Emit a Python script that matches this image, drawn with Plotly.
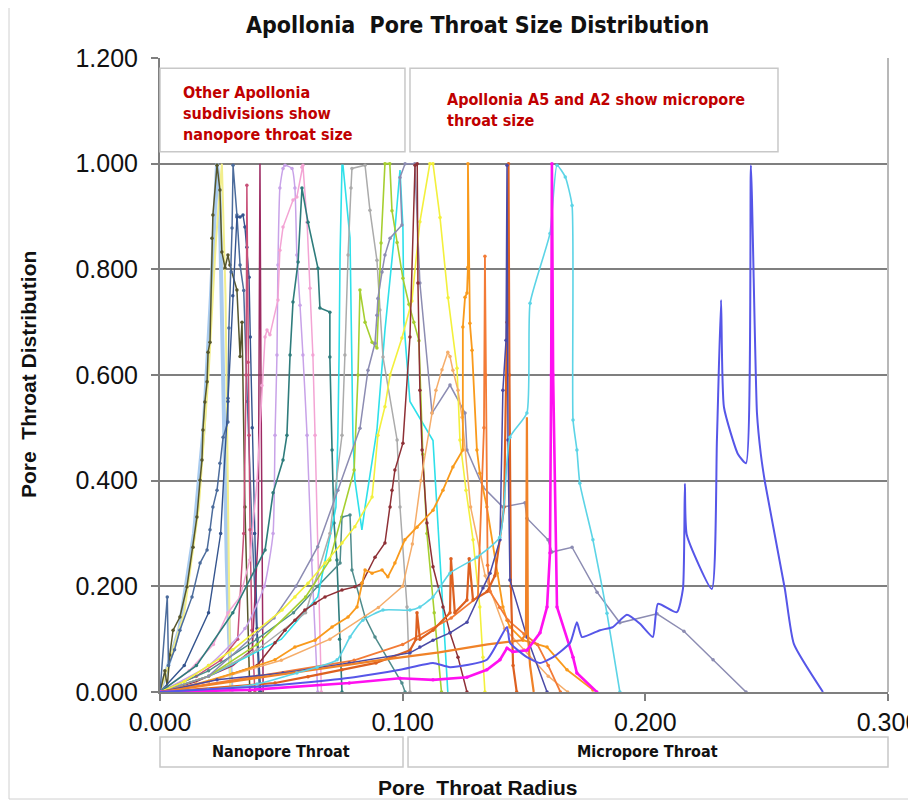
import plotly.graph_objects as go

# ---------------- data ----------------
olive_x = [0.000, 0.002, 0.003, 0.004, 0.0054, 0.0082, 0.0111, 0.0136, 0.0152, 0.0165, 0.0173, 0.0177, 0.0185,
           0.0194, 0.0198, 0.0206, 0.0214, 0.0218, 0.0235, 0.0247, 0.0255, 0.0268, 0.0280, 0.0288, 0.0317,
           0.0330, 0.0338, 0.0350, 0.0370]
olive_y = [0.000, 0.040, 0.010, 0.070, 0.117, 0.142, 0.199, 0.274, 0.331, 0.401, 0.439, 0.496, 0.549,
           0.587, 0.643, 0.662, 0.859, 0.903, 0.997, 0.950, 0.833, 0.803, 0.827, 0.808, 0.761,
           0.635, 0.700, 0.350, 0.000]

lightblue_x = [0.000, 0.008, 0.014, 0.018, 0.021, 0.0235, 0.0245, 0.0255, 0.0265, 0.0275, 0.0285, 0.0295]
lightblue_y = [0.000, 0.120, 0.300, 0.500, 0.750, 1.000, 0.950, 0.700, 0.450, 0.250, 0.100, 0.000]

paleyellow_x = [0.000, 0.010, 0.016, 0.020, 0.023, 0.0255, 0.0270, 0.0280, 0.0285, 0.0290]
paleyellow_y = [0.000, 0.150, 0.350, 0.600, 0.850, 1.000, 0.750, 0.400, 0.150, 0.000]

slate_x = [0.000, 0.003, 0.0035, 0.006, 0.0082, 0.0132, 0.0165, 0.0194, 0.0206, 0.0218, 0.0235, 0.0247, 0.0260,
           0.0280, 0.0280, 0.0284, 0.0293, 0.0297, 0.0301, 0.0317, 0.0330, 0.0345, 0.0360, 0.0380, 0.0400, 0.0410]
slate_y = [0.000, 0.180, 0.050, 0.080, 0.117, 0.180, 0.244, 0.269, 0.307, 0.350, 0.382, 0.433, 0.482,
           0.511, 0.556, 0.689, 0.795, 0.878, 0.997, 0.903, 0.808, 0.760, 0.550, 0.300, 0.100, 0.000]

navy2_x = [0.000, 0.010, 0.020, 0.025, 0.028, 0.030, 0.0317, 0.0330, 0.0342, 0.0350, 0.0358, 0.0367, 0.0372,
           0.0380, 0.0390, 0.0400, 0.0415]
navy2_y = [0.000, 0.050, 0.150, 0.300, 0.550, 0.750, 0.899, 0.899, 0.903, 0.880, 0.842, 0.785, 0.672,
           0.500, 0.300, 0.120, 0.000]

rose_x = [0.000, 0.015, 0.025, 0.032, 0.0345, 0.0355, 0.0358, 0.0363, 0.0367, 0.0371, 0.0379, 0.0391]
rose_y = [0.000, 0.030, 0.060, 0.100, 0.300, 0.600, 0.959, 0.624, 0.486, 0.307, 0.117, 0.000]

maroon_x = [0.000, 0.015, 0.030, 0.038, 0.0405, 0.0412, 0.0416, 0.0420, 0.0425]
maroon_y = [0.000, 0.020, 0.050, 0.080, 0.300, 1.000, 0.600, 0.200, 0.000]

lilac_x = [0.000, 0.020, 0.035, 0.043, 0.0466, 0.0474, 0.0482, 0.0486, 0.0494, 0.0507, 0.0515, 0.0544,
           0.0556, 0.0564, 0.0577, 0.0589, 0.0606, 0.0625, 0.0650]
lilac_y = [0.000, 0.050, 0.120, 0.200, 0.300, 0.486, 0.638, 0.808, 0.954, 0.991, 0.997, 0.991,
           0.954, 0.827, 0.732, 0.638, 0.486, 0.250, 0.000]

pink_x = [0.000, 0.012, 0.022, 0.028, 0.033, 0.037, 0.040, 0.042, 0.0433, 0.0441, 0.0453, 0.0486, 0.0494,
          0.0507, 0.0548, 0.0564, 0.0585, 0.0589, 0.0606, 0.0618, 0.0630, 0.0639, 0.0655, 0.0665]
pink_y = [0.000, 0.040, 0.090, 0.150, 0.180, 0.250, 0.400, 0.580, 0.672, 0.685, 0.676, 0.742, 0.836,
          0.880, 0.931, 0.937, 0.993, 0.997, 0.889, 0.764, 0.638, 0.486, 0.200, 0.000]

teal_x = [0.000, 0.015, 0.030, 0.0433, 0.0466, 0.0507, 0.0523, 0.0536, 0.0548, 0.0569, 0.0585, 0.0610,
          0.0651, 0.0659, 0.0700, 0.0700, 0.0709, 0.0717, 0.0729, 0.0740, 0.0750]
teal_y = [0.000, 0.050, 0.150, 0.269, 0.377, 0.439, 0.486, 0.638, 0.738, 0.814, 0.954, 0.889,
          0.802, 0.727, 0.719, 0.634, 0.458, 0.320, 0.250, 0.100, 0.000]

teal2_x = [0.000, 0.020, 0.040, 0.055, 0.065, 0.0742, 0.0750, 0.0783, 0.0791, 0.0845, 0.0886, 0.0997, 0.1010]
teal2_y = [0.000, 0.040, 0.100, 0.150, 0.200, 0.244, 0.331, 0.335, 0.231, 0.142, 0.104, 0.017, 0.000]

cyan_x = [0.000, 0.020, 0.050, 0.065, 0.0725, 0.0733, 0.0738, 0.0742, 0.0750, 0.0754, 0.0783, 0.0791,
          0.0795, 0.0803, 0.0832, 0.0845, 0.0874, 0.0894, 0.0927, 0.0968, 0.0989, 0.1001, 0.1005, 0.1030,
          0.1125, 0.1166, 0.1186]
cyan_y = [0.000, 0.030, 0.100, 0.180, 0.350, 0.486, 0.638, 0.827, 0.997, 0.997, 0.859, 0.638,
          0.486, 0.401, 0.307, 0.350, 0.433, 0.496, 0.685, 0.874, 0.988, 0.880, 0.700, 0.550,
          0.476, 0.160, 0.000]

gray_x = [0.000, 0.020, 0.040, 0.060, 0.070, 0.0750, 0.0762, 0.0775, 0.0787, 0.0791, 0.0845, 0.0865,
          0.0894, 0.0906, 0.0919, 0.0977, 0.0989, 0.1018, 0.1030]
gray_y = [0.000, 0.030, 0.080, 0.150, 0.300, 0.486, 0.638, 0.827, 0.954, 0.991, 0.997, 0.912,
          0.817, 0.723, 0.634, 0.477, 0.350, 0.161, 0.000]

lime_x = [0.000, 0.020, 0.040, 0.060, 0.070, 0.0800, 0.0816, 0.0824, 0.0845, 0.0874, 0.0894, 0.0911,
          0.0927, 0.0947, 0.0956, 0.0977, 0.1001, 0.1026, 0.1046, 0.1067, 0.1083, 0.1100, 0.1130, 0.1160]
lime_y = [0.000, 0.030, 0.090, 0.180, 0.250, 0.420, 0.600, 0.761, 0.700, 0.662, 0.651, 0.850,
          1.000, 1.000, 0.911, 0.851, 0.783, 0.734, 0.700, 0.665, 0.450, 0.300, 0.150, 0.000]

graypurple_x = [0.000, 0.020, 0.047, 0.056, 0.065, 0.0733, 0.0824, 0.0857, 0.0886, 0.0894, 0.0898, 0.0915,
                0.0927, 0.0948, 0.0997, 0.0989, 0.1010, 0.1050, 0.1071, 0.1121, 0.1195, 0.1257, 0.1265,
                0.1331, 0.1413, 0.1504, 0.1512, 0.1599, 0.1615, 0.1698, 0.1801, 0.1895, 0.2048, 0.2159,
                0.2279, 0.2415]
graypurple_y = [0.000, 0.030, 0.140, 0.200, 0.275, 0.382, 0.499, 0.609, 0.660, 0.713, 0.745, 0.795,
                0.827, 0.859, 0.884, 0.974, 1.000, 1.000, 0.774, 0.528, 0.581, 0.528, 0.458,
                0.388, 0.350, 0.358, 0.329, 0.288, 0.265, 0.274, 0.189, 0.131, 0.148, 0.115,
                0.061, 0.000]

yellow_x = [0.000, 0.010, 0.020, 0.030, 0.0503, 0.0556, 0.0610, 0.0680, 0.0750, 0.0803, 0.0874, 0.0898,
            0.0927, 0.0948, 0.0997, 0.1038, 0.1071, 0.1112, 0.1125, 0.1154, 0.1187, 0.1224, 0.1236,
            0.1261, 0.1290, 0.1318, 0.1331, 0.1339]
yellow_y = [0.000, 0.020, 0.050, 0.080, 0.155, 0.180, 0.206, 0.244, 0.282, 0.313, 0.369, 0.486,
            0.540, 0.600, 0.670, 0.740, 0.890, 1.000, 1.000, 0.898, 0.746, 0.613, 0.477,
            0.382, 0.288, 0.161, 0.066, 0.000]

darkred_x = [0.000, 0.020, 0.040, 0.0474, 0.0515, 0.0556, 0.0597, 0.0639, 0.0680, 0.0750, 0.0803, 0.0832,
             0.0886, 0.0927, 0.0948, 0.0956, 0.0968, 0.1001, 0.1030, 0.1051, 0.1060, 0.1063, 0.1071,
             0.1080, 0.1100, 0.1125, 0.1166, 0.1195, 0.1228, 0.1265]
darkred_y = [0.000, 0.020, 0.050, 0.093, 0.117, 0.136, 0.155, 0.168, 0.180, 0.193, 0.199, 0.206,
             0.255, 0.282, 0.350, 0.382, 0.420, 0.471, 0.672, 0.997, 1.000, 0.774, 0.571,
             0.458, 0.320, 0.237, 0.161, 0.112, 0.066, 0.000]

sandy_x = [0.000, 0.020, 0.050, 0.070, 0.090, 0.100, 0.104, 0.1075, 0.1121, 0.1137, 0.1162, 0.1186,
           0.1195, 0.1207, 0.1228, 0.1245, 0.1280, 0.1340, 0.1420, 0.1500, 0.1600, 0.1680]
sandy_y = [0.000, 0.020, 0.060, 0.100, 0.160, 0.200, 0.280, 0.400, 0.528, 0.571, 0.610, 0.643,
           0.635, 0.609, 0.571, 0.520, 0.350, 0.220, 0.120, 0.080, 0.030, 0.000]

gold_x = [0.000, 0.015, 0.030, 0.0474, 0.0556, 0.0639, 0.0709, 0.0775, 0.0812, 0.0832, 0.0845, 0.0874,
          0.0915, 0.0939, 0.0968, 0.1009, 0.1059, 0.1125, 0.1166, 0.1207, 0.1248, 0.1248, 0.1257,
          0.1265, 0.1269, 0.1269, 0.1277, 0.1286, 0.1306, 0.1318, 0.1347, 0.1389, 0.1413, 0.1430,
          0.1442, 0.1496, 0.1595, 0.1677, 0.1784]
gold_y = [0.000, 0.015, 0.035, 0.061, 0.085, 0.098, 0.123, 0.142, 0.161, 0.206, 0.231, 0.225,
          0.231, 0.218, 0.244, 0.288, 0.312, 0.344, 0.382, 0.426, 0.458, 0.691, 0.747,
          0.755, 0.804, 1.000, 0.698, 0.647, 0.458, 0.414, 0.350, 0.225, 0.161, 0.136,
          0.123, 0.098, 0.085, 0.042, 0.004]

coral_x = [0.000, 0.040, 0.080, 0.100, 0.120, 0.1310, 0.1335, 0.1339, 0.1343, 0.1350, 0.1360, 0.1400,
           0.1434, 0.1500, 0.1555, 0.1600, 0.1650]
coral_y = [0.000, 0.030, 0.060, 0.090, 0.140, 0.180, 0.500, 0.825, 0.600, 0.240, 0.190, 0.160,
           0.136, 0.110, 0.090, 0.050, 0.000]

darkorange_x = [0.000, 0.0474, 0.0610, 0.0750, 0.0890, 0.1030, 0.1055, 0.1059, 0.1071, 0.1125, 0.1195,
                0.1199, 0.1215, 0.1265, 0.1274, 0.1290, 0.1348, 0.1380, 0.1418, 0.1430, 0.1436, 0.1440,
                0.1446, 0.1455, 0.1470]
darkorange_y = [0.000, 0.017, 0.029, 0.042, 0.055, 0.079, 0.100, 0.150, 0.100, 0.117, 0.150,
                0.252, 0.150, 0.174, 0.252, 0.174, 0.190, 0.220, 0.350, 0.700, 1.000, 0.600,
                0.200, 0.050, 0.000]

navy_x = [0.000, 0.0235, 0.0507, 0.0780, 0.1030, 0.1071, 0.1125, 0.1195, 0.1265, 0.1331, 0.1360, 0.1401,
          0.1413, 0.1426, 0.1430, 0.1434, 0.1442, 0.1512, 0.1595]
navy_y = [0.000, 0.023, 0.036, 0.055, 0.074, 0.085, 0.098, 0.112, 0.132, 0.197, 0.225, 0.288,
          0.571, 0.666, 0.997, 0.477, 0.212, 0.104, 0.000]

orange2_x = [0.000, 0.030, 0.060, 0.090, 0.115, 0.135, 0.1490, 0.1508, 0.1512, 0.1516, 0.1525, 0.1540]
orange2_y = [0.000, 0.020, 0.040, 0.060, 0.075, 0.090, 0.098, 0.110, 0.520, 0.110, 0.050, 0.000]

cyan2_x = [0.000, 0.020, 0.040, 0.0564, 0.0647, 0.0730, 0.0783, 0.0836, 0.0919, 0.1030, 0.1071, 0.1125,
           0.1195, 0.1306, 0.1400, 0.1442, 0.1512, 0.1525, 0.1607, 0.1636, 0.1670, 0.1698, 0.1702,
           0.1718, 0.1730, 0.1784, 0.1842, 0.1895]
cyan2_y = [0.000, 0.005, 0.015, 0.036, 0.047, 0.061, 0.104, 0.136, 0.155, 0.155, 0.161, 0.180,
           0.225, 0.255, 0.293, 0.482, 0.528, 0.736, 0.868, 0.997, 0.975, 0.921, 0.515,
           0.458, 0.395, 0.288, 0.149, 0.000]

magenta_x = [0.000, 0.0370, 0.0780, 0.0989, 0.1125, 0.1265, 0.1347, 0.1401, 0.1430, 0.1454, 0.1512,
             0.1566, 0.1595, 0.1607, 0.1612, 0.1615, 0.1620, 0.1636, 0.1702, 0.1718, 0.1800]
magenta_y = [0.000, 0.004, 0.017, 0.026, 0.023, 0.028, 0.042, 0.061, 0.083, 0.076, 0.079,
             0.112, 0.161, 0.263, 0.600, 1.000, 0.600, 0.161, 0.066, 0.036, 0.000]

blue_x = [0.000, 0.020, 0.040, 0.060, 0.080, 0.0989, 0.1125, 0.1195, 0.1347, 0.1430, 0.1442, 0.1512,
          0.1566, 0.1620, 0.1690, 0.1718, 0.1739, 0.1813, 0.1866, 0.1924, 0.1978, 0.2031, 0.2052,
          0.2130, 0.2155, 0.2163, 0.2171, 0.2274, 0.2295, 0.2312, 0.2324, 0.2382, 0.2415, 0.2435,
          0.2460, 0.2476, 0.2493, 0.2575, 0.2612, 0.2732]
blue_y = [0.000, 0.005, 0.010, 0.018, 0.028, 0.042, 0.055, 0.047, 0.061, 0.123, 0.093, 0.066,
          0.055, 0.066, 0.093, 0.132, 0.104, 0.117, 0.123, 0.146, 0.129, 0.104, 0.167,
          0.151, 0.195, 0.394, 0.297, 0.195, 0.477, 0.742, 0.539, 0.450, 0.433, 0.997,
          0.528, 0.450, 0.397, 0.195, 0.091, 0.000]

x_tick_vals = [0.0, 0.1, 0.2, 0.3]
x_tick_text = ["0.000", "0.100", "0.200", "0.300"]
y_tick_vals = [0.0, 0.2, 0.4, 0.6, 0.8, 1.0, 1.2]
y_tick_text = ["0.000", "0.200", "0.400", "0.600", "0.800", "1.000", "1.200"]

# ---------------- styles ----------------
series = [
    (lightblue_x, lightblue_y, "#A9CBEF", 4, False, "linear"),
    (paleyellow_x, paleyellow_y, "#F2EE8C", 2, False, "linear"),
    (olive_x, olive_y, "#56562C", 1.5, True, "linear"),
    (slate_x, slate_y, "#4C6C9C", 1.5, True, "linear"),
    (navy2_x, navy2_y, "#34548E", 1.4, True, "linear"),
    (rose_x, rose_y, "#C85078", 1.5, True, "linear"),
    (maroon_x, maroon_y, "#9C2A62", 1.5, False, "linear"),
    (lilac_x, lilac_y, "#C8A2E8", 1.5, True, "spline"),
    (pink_x, pink_y, "#F3A4D4", 1.5, True, "linear"),
    (teal_x, teal_y, "#2E7C7C", 1.6, True, "linear"),
    (teal2_x, teal2_y, "#4F8C8C", 1.5, True, "linear"),
    (cyan_x, cyan_y, "#2EE0EA", 1.6, False, "linear"),
    (gray_x, gray_y, "#ABABAB", 1.5, True, "linear"),
    (lime_x, lime_y, "#A6CF30", 1.6, True, "linear"),
    (graypurple_x, graypurple_y, "#8C8CB2", 1.5, True, "linear"),
    (yellow_x, yellow_y, "#F3F03C", 1.6, True, "linear"),
    (darkred_x, darkred_y, "#8E3036", 1.5, True, "linear"),
    (sandy_x, sandy_y, "#F5AD6A", 1.5, True, "linear"),
    (gold_x, gold_y, "#F99A1C", 1.8, True, "linear"),
    (coral_x, coral_y, "#F37B36", 1.8, True, "linear"),
    (darkorange_x, darkorange_y, "#DD6020", 2.2, True, "linear"),
    (navy_x, navy_y, "#4A4AA6", 1.5, True, "linear"),
    (orange2_x, orange2_y, "#F08228", 2.2, False, "linear"),
    (cyan2_x, cyan2_y, "#5CD4E6", 1.6, True, "spline"),
    (magenta_x, magenta_y, "#FF10F0", 2.6, True, "linear"),
    (blue_x, blue_y, "#5656E8", 2, False, "spline"),
]

fig = go.Figure()
for xs, ys, col, w, mk, shp in series:
    line = dict(color=col, width=w, shape=shp)
    if shp == "spline":
        line["smoothing"] = 0.5
    fig.add_trace(go.Scatter(
        x=xs, y=ys, mode="lines+markers" if mk else "lines",
        line=line, marker=dict(size=3.5, color=col),
        showlegend=False, hoverinfo="skip"))

ARIAL = "Liberation Sans, Arial, sans-serif"
COND = "DejaVu Sans Condensed, DejaVu Sans, sans-serif"
RED = "#C00000"

# the page adds an 8px body margin, so the figure is 8px smaller than the window
fig.update_layout(
    width=908, height=795,
    margin=dict(l=152, r=28, t=50, b=111, autoexpand=False),
    paper_bgcolor="white", plot_bgcolor="white",
    font=dict(family=ARIAL, color="#111111"),
    xaxis=dict(range=[0, 0.3], tickvals=x_tick_vals, ticktext=x_tick_text, automargin=False,
               showgrid=False, zeroline=False, showline=True, linecolor="#7F7F7F", linewidth=2,
               ticks="outside", ticklen=7, tickcolor="#7F7F7F", tickwidth=2,
               ticklabeloverflow="allow", ticklabelstandoff=0,
               tickfont=dict(size=25, family=ARIAL, color="#111111")),
    yaxis=dict(range=[0, 1.2], tickvals=y_tick_vals, ticktext=y_tick_text, automargin=False,
               showgrid=True, gridcolor="#7F7F7F", gridwidth=2, zeroline=False,
               showline=True, linecolor="#7F7F7F", linewidth=2,
               ticks="outside", ticklen=7, tickcolor="#7F7F7F", tickwidth=2,
               ticklabelstandoff=8,
               tickfont=dict(size=25, family=ARIAL, color="#111111")),
)

shapes = [
    # outer frame
    dict(type="rect", xref="paper", yref="paper", x0=-0.2074, x1=1.0316, y0=-0.1688, y1=1.082,
         line=dict(color="#D0D0D0", width=1), fillcolor="rgba(0,0,0,0)", layer="below"),
    # right plot border
    dict(type="line", xref="paper", yref="paper", x0=1, x1=1, y0=0, y1=1,
         line=dict(color="#B8B8B8", width=2)),
    # top text boxes
    dict(type="rect", xref="paper", yref="paper", x0=0.0, x1=0.3365, y0=0.852, y1=0.984,
         line=dict(color="#C8C8C8", width=1.5), fillcolor="white"),
    dict(type="rect", xref="paper", yref="paper", x0=0.3434, x1=0.8489, y0=0.852, y1=0.984,
         line=dict(color="#C8C8C8", width=1.5), fillcolor="white"),
    # bottom boxes
    dict(type="rect", xref="paper", yref="paper", x0=0.0, x1=0.3338, y0=-0.1183, y1=-0.071,
         line=dict(color="#C8C8C8", width=1.5), fillcolor="white"),
    dict(type="rect", xref="paper", yref="paper", x0=0.3407, x1=1.0, y0=-0.1183, y1=-0.071,
         line=dict(color="#C8C8C8", width=1.5), fillcolor="white"),
]
fig.update_layout(shapes=shapes)

ann = [
    dict(text="<b>Apollonia\u00a0 Pore Throat Size Distribution</b>", x=0.4368, y=1.052,
         font=dict(size=23, family=COND, color="#111111")),
    dict(text="<b>Pore\u00a0 Throat Radius</b>", x=0.4368, y=-0.1514,
         font=dict(size=21, family=ARIAL, color="#111111")),
    dict(text="<b>Pore\u00a0 Throat Distribution</b>", x=-0.1813, y=0.50, textangle=-90,
         font=dict(size=21, family=ARIAL, color="#111111")),
    dict(text="<b>Other Apollonia<br>subdivisions show<br>nanopore throat size</b>",
         x=0.0288, y=0.9637, xanchor="left", yanchor="top", align="left",
         font=dict(size=16, family=COND, color=RED)),
    dict(text="<b>Apollonia A5 and A2 show micropore<br>throat size</b>",
         x=0.3915, y=0.9527, xanchor="left", yanchor="top", align="left",
         font=dict(size=16, family=COND, color=RED)),
    dict(text="<b>Nanopore Throat</b>", x=0.1662, y=-0.0946,
         font=dict(size=16, family=COND, color="#111111")),
    dict(text="<b>Micropore Throat</b>", x=0.6703, y=-0.0946,
         font=dict(size=16, family=COND, color="#111111")),
]
for a in ann:
    a.setdefault("xanchor", "center")
    a.setdefault("yanchor", "middle")
    fig.add_annotation(xref="paper", yref="paper", showarrow=False, **a)

fig.write_html("out.html")
